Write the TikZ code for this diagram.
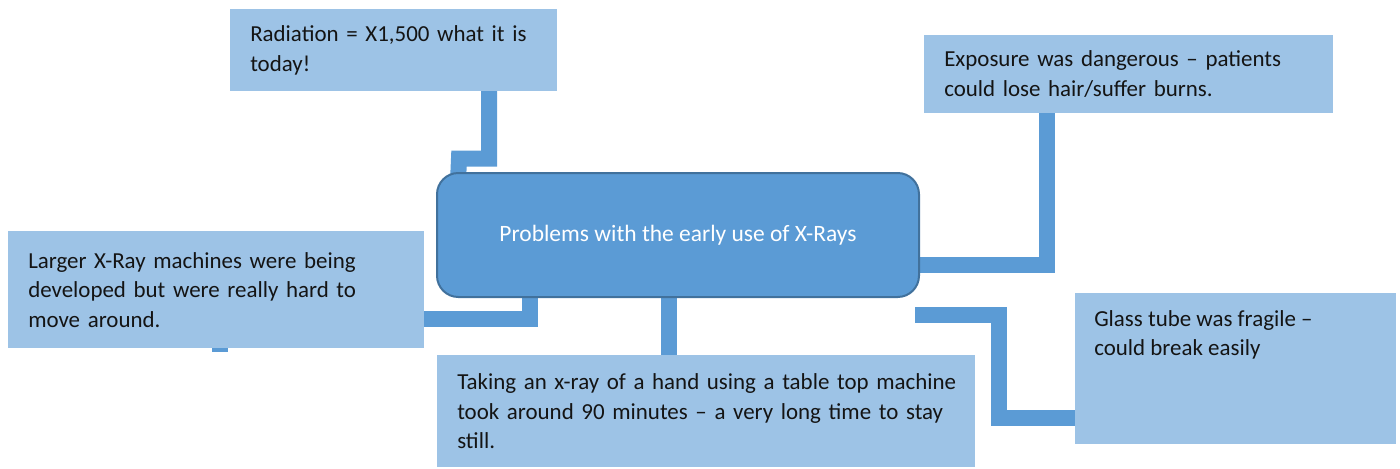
\documentclass[tikz,border=0pt]{standalone}
\usepackage{fontspec}
\setmainfont{Carlito}
\usetikzlibrary{calc,backgrounds}
\definecolor{boxfill}{RGB}{157,195,230}
\definecolor{mainfill}{RGB}{91,155,213}
\definecolor{mainborder}{RGB}{65,113,156}
\definecolor{connc}{RGB}{91,155,213}
\definecolor{txt}{RGB}{20,20,20}
\begin{document}
\begin{tikzpicture}[x=0.75pt,y=-0.75pt,
  infobox/.style={draw=none,fill=boxfill,anchor=north west,inner xsep=15pt,inner ysep=0pt,
    align=left,text=txt,font=\fontsize{17.2pt}{22.2pt}\selectfont},
  plainbox/.style={draw=none,fill=boxfill,anchor=north west,inner sep=0pt},
  plaintext/.style={anchor=north west,inner sep=0pt,align=left,text=txt,font=\fontsize{17.2pt}{22.2pt}\selectfont},
  mainbox/.style={draw=mainborder,line width=1.5pt,fill=mainfill,rounded corners=16pt,
    text=white,font=\fontsize{17.6pt}{22.2pt}\selectfont,inner sep=0pt},
  conn/.style={draw=connc,line width=12pt,line cap=butt,line join=miter}]
\useasboundingbox (0,0) rectangle (1400,468);

\node[infobox,minimum width=327*0.75pt,minimum height=82*0.75pt,text width=287*0.75pt] (rad) at (230,9)
  {\mbox{Radiation = X1,500 what it is}\\today!};
\node[infobox,minimum width=409*0.75pt,minimum height=78*0.75pt,text width=369*0.75pt] (expo) at (924,35)
  {\mbox{Exposure was dangerous – patients}\\\mbox{could lose hair/suffer burns.}};
\node[infobox,minimum width=416*0.75pt,minimum height=117*0.75pt,text width=376*0.75pt] (dev) at (8,231)
  {\mbox{Larger X-Ray machines were being}\\\mbox{developed but were really hard to}\\\mbox{move around.}};
\node[infobox,minimum width=538*0.75pt,minimum height=112*0.75pt,text width=498*0.75pt] (take) at (437,355)
  {\mbox{Taking an x-ray of a hand using a table top machine}\\\mbox{took around 90 minutes – a very long time to stay}\\still.};
\node[plainbox,minimum width=321*0.75pt,minimum height=151*0.75pt] (glass) at (1075,293) {};
\node[plaintext] (glasstext) at (1094,310) {Glass tube was fragile –\\could break easily};

\node[mainbox,minimum width=482*0.75pt,minimum height=124*0.75pt] (c) at (678,235)
  {Problems with the early use of X-Rays};

\begin{scope}[on background layer]
\draw[conn] ($(rad.south west)+(259,-5)$) -- ++(0,72) -- ++(-30,0) -- ($(c.north west)+(22,10)$);
\draw[conn] ($(c.south west)+(94,-10)$) |- ($(dev.south west)+(212,-30)$) -- ($(dev.south west)+(212,3)$);
\draw[conn] ($(expo.south west)+(123,-5)$) |- ($(c.east)+(-10,30)$);
\draw[conn] ($(c.south)+(-9,-10)$) -- ($(take.north west)+(232,5)$);
\coordinate (rstart) at (915,315);
\draw[conn] (rstart) -- ++(84,0) |- ($(glass.south west)+(5,-27)$);
\end{scope}
\end{tikzpicture}
\end{document}
